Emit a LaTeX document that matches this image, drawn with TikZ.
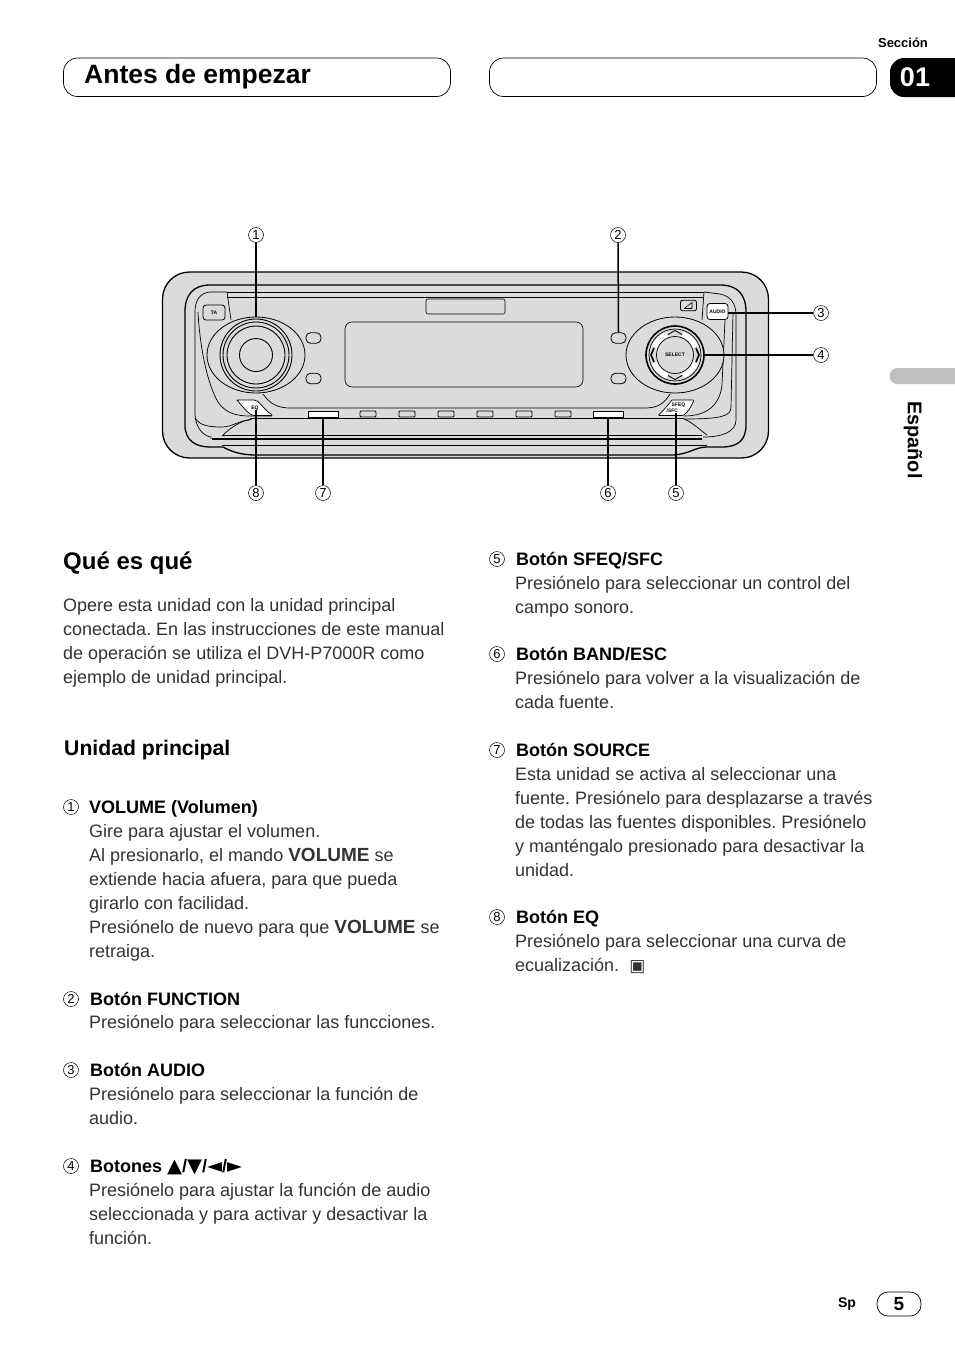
\documentclass[tikz,border=0pt]{standalone}
\usepackage{fontspec}
\setmainfont{Liberation Sans}
\newfontfamily\symfont{DejaVu Sans}
\usetikzlibrary{shapes.geometric}
\definecolor{panelgray}{gray}{0.86}
\definecolor{tabgray}{gray}{0.75}
\newcommand{\volkey}{\textbf{\fontsize{19}{24}\selectfont VOLUME}}
\newcommand{\trisym}[1]{{\symfont\fontsize{19.5}{24}\selectfont #1}}
\frenchspacing
\tikzset{
  devline/.style={draw=black,line width=0.7pt},
  devheavy/.style={draw=black,line width=1.3pt},
  leader/.style={draw=black,line width=1.5pt},
  numcirc/.style={circle,draw=black,line width=0.5pt,inner sep=0pt,minimum size=15pt,font=\fontsize{13}{13}\selectfont},
  pill/.style={draw=black,line width=0.7pt,rounded corners=14pt},
  smallbtn/.style={draw=black,line width=0.8pt,fill=panelgray,rounded corners=1pt,inner sep=0pt,minimum width=16pt,minimum height=6pt},
  widebtn/.style={draw=black,line width=0.8pt,fill=white,inner sep=0pt,minimum width=30pt,minimum height=6pt},
  oval/.style={draw=black,line width=0.8pt,fill=panelgray,rounded corners=4.5pt,inner sep=0pt,minimum width=15pt,minimum height=10.5pt},
  tiny/.style={font=\fontsize{5}{5.5}\bfseries\selectfont,inner sep=0pt},
  itemhead/.style={anchor=base west,inner sep=0pt,font=\fontsize{18}{24}\bfseries\selectfont},
  itembody/.style={anchor=north west,align=left,inner sep=0pt,font=\fontsize{18}{24}\selectfont,text=black!80},
}
\begin{document}
\begin{tikzpicture}[x=1pt,y=-1pt]
  \useasboundingbox (0,0) rectangle (954,1355);
  \fill[white] (0,0) rectangle (954,1355);

  % header
  \node (secword) at (903,43) [inner sep=0pt,font=\fontsize{13}{13}\bfseries\selectfont] {Sección};
  \draw[pill] (63.5,58) rectangle (450.5,96.5);
  \draw[pill] (489.5,58) rectangle (876.5,96.5);
  \node (title) at (84,77) [anchor=west,inner sep=0pt,font=\fontsize{26.5}{27}\bfseries\selectfont] {Antes de empezar};
  \fill[black,rounded corners=14pt] (890,58) rectangle (980,97);
  \node (secnum) at (915,77) [inner sep=0pt,text=white,font=\fontsize{27}{27}\bfseries\selectfont] {01};
  \fill[tabgray,rounded corners=7pt] (890,368) rectangle (980,384);
  \node (lang) at (913,440) [rotate=-90,inner sep=0pt,font=\fontsize{19.8}{20}\bfseries\selectfont] {Español};

  % radio panel
  \draw[devheavy,fill=panelgray,rounded corners=27pt] (162.5,272) rectangle (768.5,458);
  \draw[devheavy] (720,285) -- (210,285) .. controls (193,285) and (185,295) .. (185,312)
    -- (185,425) .. controls (185,440) and (195,447) .. (210,447) -- (223,447)
    .. controls (232,452) and (242,455) .. (256,455) -- (673,455)
    .. controls (690,454) and (695,447) .. (707,447) -- (722,447)
    .. controls (738,447) and (746,440) .. (746,425) -- (746,312)
    .. controls (746,295) and (738,285) .. (720,285);
  \draw[devline] (227,292) -- (704,292);
  \draw[devline] (227,297) -- (704,297);
  \draw[devline] (227,292) -- (210,292) .. controls (200,293) and (195,300) .. (195,312)
    -- (195,412) .. controls (195,430) and (205,436) .. (211,437) -- (211,439);
  \draw[devline] (198,312) .. controls (200,350) and (208,385) .. (218,402)
    .. controls (226,414) and (238,416) .. (250,416) -- (272,416);
  \draw[devline] (195,418) .. controls (200,426) and (210,427) .. (222,427)
    .. controls (232,427) and (240,420) .. (250,420);
  \draw[devline] (222,436) .. controls (230,428) and (240,421) .. (252,419);
  \draw[devline] (704,292) -- (720,294) .. controls (730,296) and (736,303) .. (736,315)
    -- (736,420) .. controls (736,432) and (722,437) .. (703,437);
  \draw[devline] (733,312) -- (731,408) .. controls (730,416) and (722,419) .. (684,419);
  \draw[devline] (684,419) .. controls (692,422) and (700,430) .. (707,435);
  \draw[devline] (725,320) -- (722,385) .. controls (720,404) and (708,416) .. (684,416);
  \draw[devline] (704,292) -- (702,320);
  \draw[devline] (227,292) -- (231,320);
  \draw[devheavy] (250,418.5) -- (684,418.5);
  \draw[devline] (222,435) -- (702,435);
  \draw[devheavy] (212,439) -- (702,439);
  \draw[devline] (222,445.5) -- (707,445.5);

  % display and slot
  \node (slot) at (465.5,306.5) [draw=black,line width=0.6pt,rounded corners=2pt,minimum width=79pt,minimum height=15pt,inner sep=0pt] {};
  \node (display) at (464,354.5) [draw=black,line width=0.6pt,rounded corners=7pt,minimum width=238pt,minimum height=65pt,inner sep=0pt] {};
  \draw[devline] (263,394) .. controls (270,404) and (278,408) .. (290,408) -- (645,408)
    .. controls (657,408) and (664,404) .. (670,394);

  % left knob
  \node (volbezel) at (256,355) [ellipse,draw=black,line width=0.8pt,fill=panelgray,minimum width=98pt,minimum height=76pt,inner sep=0pt] {};
  \foreach \ringsize/\ringname in {72/volringa,66/volringb,58/volringc,33/volcap}
    \node (\ringname) at (256,355) [circle,draw=black,line width=0.9pt,fill=panelgray,minimum size=\ringsize pt,inner sep=0pt] {};
  \node (taBtn) at (214,312.5) [draw=black,line width=0.8pt,rounded corners=3pt,minimum width=22pt,minimum height=15pt,inner sep=0pt,tiny] {TA};
  \node (funcup) at (313.5,338) [oval] {};
  \node (funclow) at (313.5,378.5) [oval] {};
  \node (funcRup) at (618.5,338) [oval] {};
  \node (funcRlow) at (618.5,378.5) [oval] {};

  % bottom row of buttons
  \foreach \bx/\bname in {368/btna,407/btnb,446/btnc,485/btnd,524/btne,563/btnf}
    \node (\bname) at (\bx,414) [smallbtn] {};
  \node (sourcebtn) at (323,414) [widebtn] {};
  \node (bandbtn) at (608,414) [widebtn] {};
  \draw[devline,fill=white,rounded corners=2pt] (237,400) -- (256,400) .. controls (262,405) and (266,411) .. (273,415.5)
    -- (252,415.5) .. controls (246,411) and (242,406) .. (237,400);
  \node (eqbtn) at (255,408) [tiny] {EQ};
  \draw[devline,fill=white,rounded corners=1pt] (672,400) -- (694,400) .. controls (691,407) and (688,412) .. (683,415.5)
    -- (658,415.5) .. controls (663,411) and (668,405) .. (672,400);
  \node (sfeqbtn) at (676,408) [tiny,align=left] {\hspace{5pt}SFEQ\\/SFC};

  % right knob
  \node (selbezel) at (675,355) [ellipse,draw=black,line width=0.8pt,fill=panelgray,minimum width=98pt,minimum height=76pt,inner sep=0pt] {};
  \node (selring) at (675,355) [circle,draw=black,line width=1.6pt,fill=panelgray,minimum size=58pt,inner sep=0pt] {};
  \draw[devline] (selring.center) circle (26);
  \foreach \sectang in {45,135,225,315}
    \draw[white,line width=5.5pt] (675,355) ++(\sectang-24:-22) ++(\sectang-24:44) arc[start angle=\sectang-24,end angle=\sectang+24,radius=22];
  \node (selcap) at (675,355) [circle,draw=black,line width=0.7pt,fill=panelgray,minimum size=37pt,inner sep=0pt,tiny] {SELECT};
  \draw[line width=0.9pt] (668,334.5) -- (675,330.5) -- (682,334.5);
  \draw[line width=0.9pt] (668,375.5) -- (675,379.5) -- (682,375.5);
  \draw[line width=1.6pt] (654,348) -- (651,355) -- (654,362);
  \draw[line width=1.6pt] (696,348) -- (699,355) -- (696,362);
  \node (iconbtn) at (688.5,305.5) [draw=black,line width=0.8pt,rounded corners=2pt,minimum width=16pt,minimum height=10.5pt,inner sep=0pt] {};
  \draw[line width=0.6pt] (684,308.5) -- (692,308.5) -- (692,302.5) -- (684,308.5);
  \node (audiobtn) at (717.5,311.5) [draw=black,line width=0.8pt,fill=white,rounded corners=3pt,minimum width=21pt,minimum height=16pt,inner sep=0pt,tiny] {AUDIO};

  % numbers and leaders
  \node[numcirc] (num1) at (256,235) {1};
  \node[numcirc] (num2) at (618,235) {2};
  \node[numcirc] (num3) at (821,313) {3};
  \node[numcirc] (num4) at (821,355) {4};
  \node[numcirc] (num5) at (676,493) {5};
  \node[numcirc] (num6) at (608,493) {6};
  \node[numcirc] (num7) at (323,493) {7};
  \node[numcirc] (num8) at (256,493) {8};
  \draw[leader] (num1) -- (volbezel.north);
  \draw[leader] (num2) -- (funcRup.north);
  \draw[leader] (num3) -- (num3 -| audiobtn.east);
  \draw[leader] (num4) -- (selring.east);
  \draw[leader] (num5) -- (num5 |- sfeqbtn.south);
  \draw[leader] (num6) -- (bandbtn.south);
  \draw[leader] (num7) -- (sourcebtn.south);
  \draw[leader] (num8) -- (num8 |- eqbtn.south);

  % left column
  \node (quees) at (63,563) [anchor=west,inner sep=0pt,font=\fontsize{24}{24}\bfseries\selectfont] {Qué es qué};
  \node[itembody] (intro) at (63,598.5) {Opere esta unidad con la unidad principal\\
    conectada. En las instrucciones de este manual\\
    de operación se utiliza el DVH-P7000R como\\
    ejemplo de unidad principal.};
  \node (unidad) at (64,750) [anchor=west,inner sep=0pt,font=\fontsize{21.2}{22}\bfseries\selectfont] {Unidad principal};

  \node[numcirc] (itema) at (71,807) {1};
  \node[itemhead] (heada) at (89,813) {VOLUME (Volumen)};
  \node[itembody] (bodya) at (89,824) {Gire para ajustar el volumen.\\
    Al presionarlo, el mando \volkey{} se\\
    extiende hacia afuera, para que pueda\\
    girarlo con facilidad.\\
    Presiónelo de nuevo para que \volkey{} se\\
    retraiga.};

  \node[numcirc] (itemb) at (71,999) {2};
  \node[itemhead] (headb) at (90,1005) {Botón FUNCTION};
  \node[itembody] (bodyb) at (89,1015) {Presiónelo para seleccionar las funcciones.};

  \node[numcirc] (itemc) at (71,1070) {3};
  \node[itemhead] (headc) at (90,1076) {Botón AUDIO};
  \node[itembody] (bodyc) at (89,1087) {Presiónelo para seleccionar la función de\\
    audio.};

  \node[numcirc] (itemd) at (71,1166) {4};
  \node[itemhead] (headd) at (90,1172) {Botones \trisym{▲}/\trisym{▼}/\trisym{◄}/\trisym{►}};
  \node[itembody] (bodyd) at (89,1183) {Presiónelo para ajustar la función de audio\\
    seleccionada y para activar y desactivar la\\
    función.};

  % right column
  \node[numcirc] (iteme) at (497,559) {5};
  \node[itemhead] (heade) at (516,565) {Botón SFEQ/SFC};
  \node[itembody] (bodye) at (515,576) {Presiónelo para seleccionar un control del\\
    campo sonoro.};

  \node[numcirc] (itemf) at (497,654) {6};
  \node[itemhead] (headf) at (516,660) {Botón BAND/ESC};
  \node[itembody] (bodyf) at (515,671) {Presiónelo para volver a la visualización de\\
    cada fuente.};

  \node[numcirc] (itemg) at (497,750) {7};
  \node[itemhead] (headg) at (516,756) {Botón SOURCE};
  \node[itembody] (bodyg) at (515,767) {Esta unidad se activa al seleccionar una\\
    fuente. Presiónelo para desplazarse a través\\
    de todas las fuentes disponibles. Presiónelo\\
    y manténgalo presionado para desactivar la\\
    unidad.};

  \node[numcirc] (itemh) at (497,917) {8};
  \node[itemhead] (headh) at (516,923) {Botón EQ};
  \node[itembody] (bodyh) at (515,934) {Presiónelo para seleccionar una curva de\\
    ecualización. \ {\symfont\fontsize{17}{24}\selectfont ▣}};

  % footer
  \node (spmark) at (847,1304) [inner sep=0pt,font=\fontsize{14}{14}\bfseries\selectfont] {Sp};
  \node (pagenum) at (899,1304) [draw=black,line width=0.7pt,rounded corners=11pt,minimum width=44pt,minimum height=24pt,inner sep=0pt,font=\fontsize{19}{19}\bfseries\selectfont] {5};
\end{tikzpicture}
\end{document}
